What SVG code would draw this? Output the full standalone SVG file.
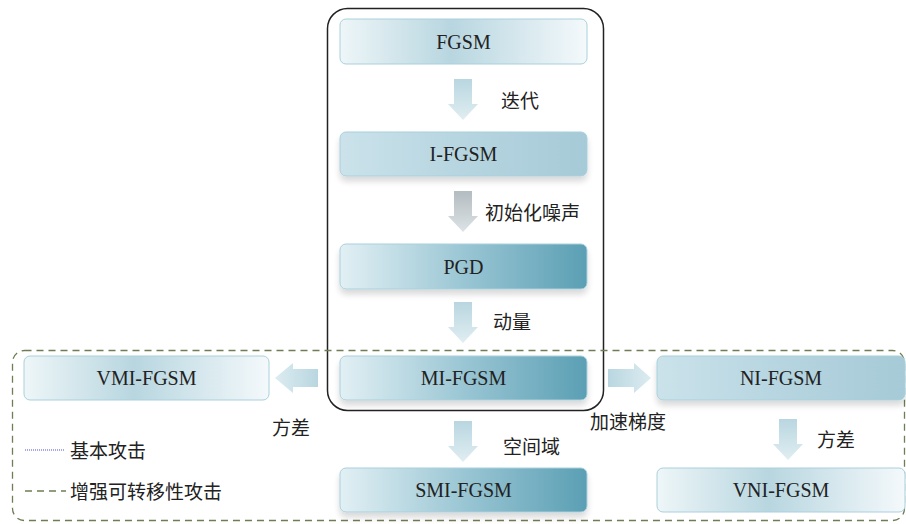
<svg xmlns="http://www.w3.org/2000/svg" width="906" height="524" viewBox="0 0 906 524">
<defs>
<linearGradient id="gLight" x1="0" y1="0" x2="1" y2="0">
<stop offset="0" stop-color="#eef6f8"/>
<stop offset="0.45" stop-color="#b8d6e0"/>
<stop offset="1" stop-color="#f4f9fb"/>
</linearGradient>
<linearGradient id="gMed" x1="0" y1="0" x2="1" y2="0">
<stop offset="0" stop-color="#cbe2ea"/>
<stop offset="0.5" stop-color="#b6d5e0"/>
<stop offset="1" stop-color="#a6cad7"/>
</linearGradient>
<linearGradient id="gDark" x1="0" y1="0" x2="1" y2="0">
<stop offset="0" stop-color="#e2f0f4"/>
<stop offset="0.5" stop-color="#9ac6d4"/>
<stop offset="1" stop-color="#5b9fb4"/>
</linearGradient>
<linearGradient id="gArrV" x1="0" y1="0" x2="0" y2="1">
<stop offset="0" stop-color="#b9d6e0"/>
<stop offset="1" stop-color="#e0eef2"/>
</linearGradient>
<linearGradient id="gArrGray" x1="0" y1="0" x2="0" y2="1">
<stop offset="0" stop-color="#b3bcc1"/>
<stop offset="1" stop-color="#dde3e6"/>
</linearGradient>
<linearGradient id="gArrL" x1="1" y1="0" x2="0" y2="0">
<stop offset="0" stop-color="#b9d6e0"/>
<stop offset="1" stop-color="#dcecf1"/>
</linearGradient>
<linearGradient id="gArrR" x1="0" y1="0" x2="1" y2="0">
<stop offset="0" stop-color="#b9d6e0"/>
<stop offset="1" stop-color="#dcecf1"/>
</linearGradient>
<filter id="sh" x="-10%" y="-20%" width="120%" height="160%">
<feGaussianBlur in="SourceAlpha" stdDeviation="3"/>
<feOffset dy="5"/>
<feComponentTransfer><feFuncA type="linear" slope="0.15"/></feComponentTransfer>
<feMerge><feMergeNode/><feMergeNode in="SourceGraphic"/></feMerge>
</filter>
<path id="arrDown" d="M-9,0 H9 V25 H15 L0,41 L-15,25 H-9 Z"/>
</defs>
<style>
.node rect{stroke:#a9d0dc;stroke-width:1}
.lbl{font-family:"Liberation Serif",serif;font-size:20px;fill:#222;text-anchor:middle}
.cn{font-family:"Noto Sans CJK SC",serif;font-size:19px;fill:#222}
</style>
<rect x="327.5" y="8.5" width="276" height="402" rx="20" fill="none" stroke="#222" stroke-width="1.5"/>
<rect x="12.5" y="350.5" width="892" height="170" rx="12" fill="none" stroke="#6f7c55" stroke-width="1.3" stroke-dasharray="7,5"/>
<g id="FGSM" class="node"><rect x="340" y="19" width="247" height="45" rx="6" fill="url(#gLight)"/><text class="lbl" x="463.5" y="49">FGSM</text></g>
<g id="I-FGSM" class="node"><rect x="340" y="132" width="247" height="44" rx="6" fill="url(#gMed)" filter="url(#sh)"/><text class="lbl" x="463.5" y="161">I-FGSM</text></g>
<g id="PGD" class="node"><rect x="340" y="244" width="247" height="45" rx="6" fill="url(#gDark)" filter="url(#sh)"/><text class="lbl" x="463.5" y="274">PGD</text></g>
<g id="MI-FGSM" class="node"><rect x="340" y="356" width="247" height="44" rx="6" fill="url(#gDark)" filter="url(#sh)"/><text class="lbl" x="463.5" y="385">MI-FGSM</text></g>
<g id="VMI-FGSM" class="node"><rect x="24" y="356" width="245" height="44" rx="6" fill="url(#gLight)"/><text class="lbl" x="146.5" y="385">VMI-FGSM</text></g>
<g id="NI-FGSM" class="node"><rect x="657" y="356" width="248" height="44" rx="6" fill="url(#gMed)" filter="url(#sh)"/><text class="lbl" x="781" y="385">NI-FGSM</text></g>
<g id="SMI-FGSM" class="node"><rect x="340" y="468" width="247" height="44" rx="6" fill="url(#gDark)" filter="url(#sh)"/><text class="lbl" x="463.5" y="497">SMI-FGSM</text></g>
<g id="VNI-FGSM" class="node"><rect x="657" y="468" width="248" height="44" rx="6" fill="url(#gLight)"/><text class="lbl" x="781" y="497">VNI-FGSM</text></g>
<g id="connectors">
<use href="#arrDown" x="463" y="79" fill="url(#gArrV)"/>
<use href="#arrDown" x="463" y="191" fill="url(#gArrGray)"/>
<use href="#arrDown" x="463" y="302" fill="url(#gArrV)"/>
<use href="#arrDown" x="463" y="421" fill="url(#gArrV)"/>
<use href="#arrDown" x="788" y="419" fill="url(#gArrV)"/>
<path d="M318,369 V387 H293 V393 L275,378 L293,363 V369 Z" fill="url(#gArrL)"/>
<path d="M608,369 V387 H634 V393 L651,378 L634,363 V369 Z" fill="url(#gArrR)"/>
<text class="cn" x="501" y="108">迭代</text>
<text class="cn" x="485" y="220">初始化噪声</text>
<text class="cn" x="493" y="329">动量</text>
<text class="cn" x="503" y="454">空间域</text>
<text class="cn" x="272" y="435">方差</text>
<text class="cn" x="590" y="429">加速梯度</text>
<text class="cn" x="817" y="447">方差</text>
</g>
<g id="legend">
<line x1="25" y1="450" x2="65" y2="450" stroke="#4a4ae0" stroke-width="1" stroke-dasharray="1,1"/>
<text class="cn" x="70" y="458">基本攻击</text>
<line x1="25" y1="491" x2="66" y2="491" stroke="#6f7c55" stroke-width="1.3" stroke-dasharray="7,5"/>
<text class="cn" x="70" y="499">增强可转移性攻击</text>
</g>
</svg>
